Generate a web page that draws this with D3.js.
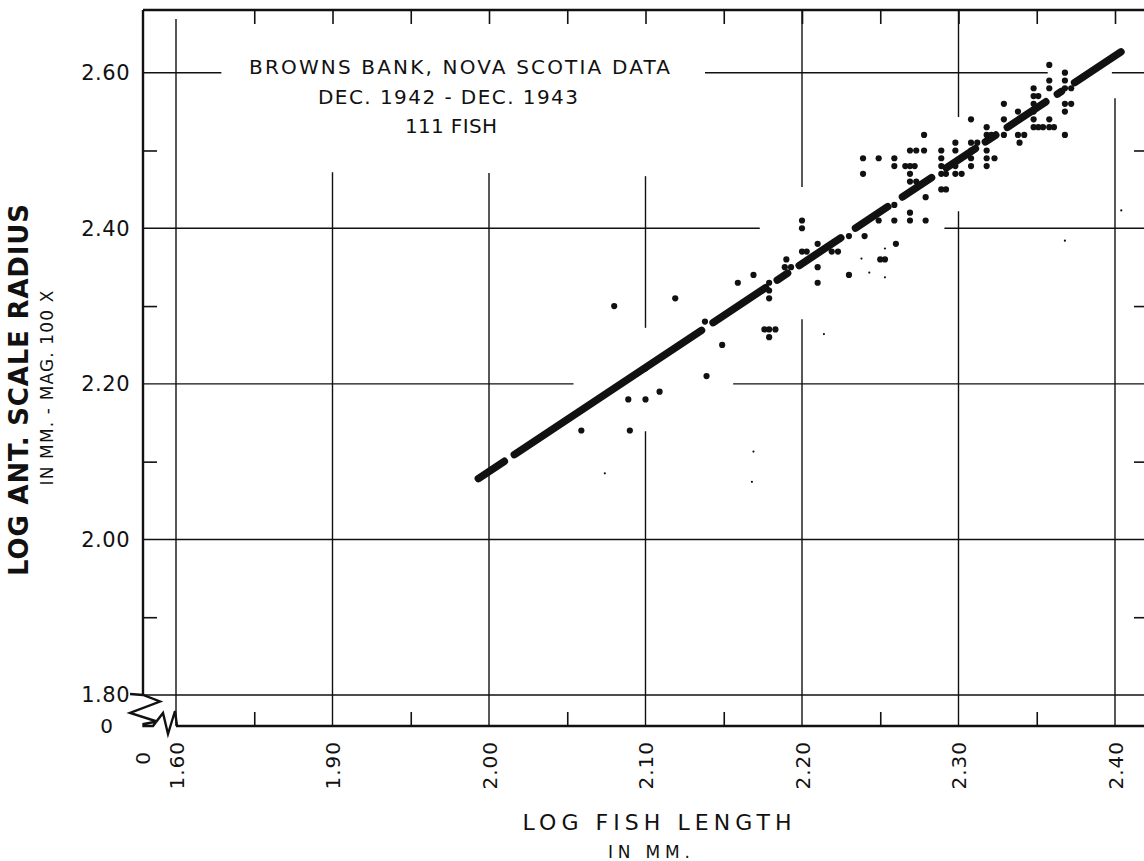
<!DOCTYPE html>
<html>
<head>
<meta charset="utf-8">
<script src="https://cdn.jsdelivr.net/npm/d3@7"></script>
<style>
body { margin: 0; background: #fff; }
svg { display: block; background: #fff; }
text { font-family: "DejaVu Sans", sans-serif; fill: #111; }
</style>
</head>
<body>
<svg id="chart" width="1144" height="861"></svg>
<script>
// ---- data ----
var logLength = [2.059,2.080,2.089,2.090,2.100,2.100,2.109,2.119,2.138,2.139,
	2.149,2.159,2.169,2.179,2.179,2.179,2.176,2.179,2.183,2.179,
	2.190,2.189,2.193,2.200,2.200,2.210,2.200,2.203,2.219,2.223,
	2.210,2.210,2.230,2.240,2.230,2.250,2.253,2.260,2.249,2.259,
	2.259,2.269,2.269,2.279,2.279,2.239,2.239,2.249,2.259,2.259,
	2.266,2.269,2.272,2.269,2.273,2.278,2.269,2.269,2.273,2.278,
	2.289,2.289,2.289,2.289,2.292,2.289,2.292,2.298,2.298,2.298,
	2.298,2.302,2.308,2.308,2.312,2.308,2.308,2.308,2.318,2.318,
	2.321,2.318,2.318,2.323,2.318,2.329,2.329,2.329,2.338,2.338,
	2.342,2.339,2.348,2.348,2.351,2.348,2.348,2.348,2.348,2.351,
	2.354,2.358,2.361,2.358,2.358,2.358,2.358,2.368,2.368,2.368,
	2.372,2.368,2.372,2.368,2.368];
var logRadius = [2.14,2.30,2.18,2.14,2.18,2.22,2.19,2.31,2.28,2.21,
	2.25,2.33,2.34,2.33,2.32,2.31,2.27,2.27,2.27,2.26,
	2.36,2.35,2.35,2.41,2.40,2.38,2.37,2.37,2.37,2.37,
	2.35,2.33,2.39,2.39,2.34,2.36,2.36,2.38,2.41,2.43,
	2.41,2.42,2.41,2.41,2.44,2.49,2.47,2.49,2.49,2.48,
	2.48,2.48,2.48,2.50,2.50,2.50,2.47,2.46,2.46,2.52,
	2.50,2.49,2.48,2.47,2.47,2.45,2.45,2.51,2.50,2.48,
	2.47,2.47,2.54,2.51,2.51,2.50,2.49,2.48,2.53,2.52,
	2.52,2.50,2.49,2.49,2.48,2.56,2.54,2.52,2.55,2.52,
	2.52,2.51,2.58,2.57,2.57,2.56,2.55,2.54,2.53,2.53,
	2.53,2.53,2.53,2.61,2.59,2.58,2.54,2.60,2.59,2.58,
	2.58,2.56,2.56,2.55,2.52];

// faint specks in the plot
var speckX = [2.238,2.243,2.253,2.253,2.214,2.074,2.169,2.168,2.404,2.368];
var speckY = [2.361,2.343,2.374,2.337,2.264,2.085,2.113,2.074,2.423,2.384];

// fitted line  log R = a + b log L, drawn in pieces
var fitA = -0.584, fitB = 1.3357;
var fitPieces = [[1.992,2.011],[2.015,2.137],[2.142,2.178],[2.183,2.192],[2.197,2.226],
	[2.233,2.256],[2.263,2.284],[2.291,2.312],[2.316,2.325],[2.330,2.357],[2.362,2.367],[2.373,2.405]];

// axes
var xMajor = [1.8,1.9,2.0,2.1,2.2,2.3,2.4];
var xMajorLabels = ["1.60","1.90","2.00","2.10","2.20","2.30","2.40"];
var xMinor = [1.85,1.95,2.05,2.15,2.25,2.35];
var xTop = [1.85,1.90,1.95,2.00,2.05,2.10,2.15,2.20,2.25,2.30,2.35,2.40];
var yMajor = [1.8,2.0,2.2,2.4,2.6];
var yMajorLabels = ["1.80","2.00","2.20","2.40","2.60"];
var yMinor = [1.9,2.1,2.3,2.5];

// grid lines with the breaks seen in the drawing (null = frame edge)
var xGridPieces = [
	[[null,2.669]],
	[[null,2.472]],
	[[null,2.471]],
	[[null,2.139],[2.272,2.467]],
	[[null,2.283],[2.453,null]],
	[[null,2.422],[2.543,null]],
	[[null,2.567]]
];
var yGridPieces = [
	[[null,null]],
	[[null,null]],
	[[null,2.054],[2.156,null]],
	[[null,2.173],[2.291,null]],
	[[null,1.829],[2.138,2.357],[2.398,null]]
];

var titleLines = ["BROWNS BANK, NOVA SCOTIA DATA","DEC. 1942 - DEC. 1943","111 FISH"];

// ---- drawing ----
var ink = "#111",
	frame = {left:143, top:10, right:1148, bottom:726};
var svg = d3.select("#chart");
var x = d3.scaleLinear().domain([1.8, 2.4]).range([176, 1115]),
	y = d3.scaleLinear().domain([1.8, 2.6]).range([695, 72.7]);

var grid = svg.append("g").attr("stroke", ink).attr("stroke-width", 1.4).attr("fill", "none");
xMajor.forEach(function(v, i) {
	xGridPieces[i].forEach(function(p) {
		grid.append("line")
			.attr("x1", x(v)).attr("x2", x(v))
			.attr("y1", p[0] == null ? frame.bottom : y(p[0]))
			.attr("y2", p[1] == null ? frame.top : y(p[1]));
	});
});
yMajor.forEach(function(v, i) {
	yGridPieces[i].forEach(function(p) {
		grid.append("line")
			.attr("y1", y(v)).attr("y2", y(v))
			.attr("x1", p[0] == null ? frame.left : x(p[0]))
			.attr("x2", p[1] == null ? frame.right : x(p[1]));
	});
});

function styleAxis(g) {
	g.select(".domain").remove();
	g.attr("font-family", null).attr("font-size", null);
	g.selectAll(".tick line").attr("stroke", ink).attr("stroke-width", 1.6);
}

// minor / edge ticks (pointing inward)
svg.append("g").attr("transform", "translate(0," + frame.bottom + ")")
	.call(d3.axisBottom(x).tickValues(xMinor).tickSize(-14).tickFormat("")).call(styleAxis);
svg.append("g").attr("transform", "translate(0," + frame.top + ")")
	.call(d3.axisTop(x).tickValues(xTop).tickSize(-14).tickFormat("")).call(styleAxis);
svg.append("g").attr("transform", "translate(" + frame.left + ",0)")
	.call(d3.axisLeft(y).tickValues(yMinor).tickSize(-14).tickFormat("")).call(styleAxis);
svg.append("g").attr("transform", "translate(" + frame.right + ",0)")
	.call(d3.axisRight(y).tickValues(yMinor).tickSize(-14).tickFormat("")).call(styleAxis);

// tick labels
var xl = svg.append("g").attr("transform", "translate(0," + frame.bottom + ")")
	.call(d3.axisBottom(x).tickValues(xMajor).tickSize(0)
		.tickFormat(function(d, i) { return xMajorLabels[i]; }))
	.call(styleAxis);
xl.selectAll(".tick text")
	.attr("transform", "rotate(-90)")
	.attr("x", -15).attr("y", 0).attr("dy", "0.36em")
	.attr("text-anchor", "end")
	.style("font-size", "20px").style("letter-spacing", "1px");

var yl = svg.append("g").attr("transform", "translate(" + frame.left + ",0)")
	.call(d3.axisLeft(y).tickValues(yMajor).tickSize(0).tickPadding(13)
		.tickFormat(function(d, i) { return yMajorLabels[i]; }))
	.call(styleAxis);
yl.selectAll(".tick text").style("font-size", "21px").style("letter-spacing", "0.5px");

// origin zeros of the broken axes
svg.append("text").attr("x", 113).attr("y", 733).attr("text-anchor", "end")
	.style("font-size", "20px").text("0");
svg.append("text").attr("transform", "translate(" + (frame.left + 7) + ",752) rotate(-90)")
	.attr("text-anchor", "end").style("font-size", "20px").text("0");

// frame
var frameG = svg.append("g").attr("stroke", ink).attr("fill", "none").attr("stroke-width", 2.4);
frameG.append("path").attr("d", "M" + frame.left + "," + frame.top + "H" + frame.right + "V" + frame.bottom);
frameG.append("path").attr("d", "M" + frame.left + "," + frame.top + "V" + y(1.8));
frameG.append("path").attr("d", "M" + x(1.8) + "," + frame.bottom + "H" + frame.right);
// axis break symbol
frameG.append("path").attr("stroke-linejoin", "miter")
	.attr("d", d3.line()([[130,694],[143,695],[160,701.5],[130,713],[157,721.5],[143.5,724],
		[143.5,726],[153,726],[163,713],[168,734],[175,711],[177,726]]));

// fitted line
var inset = 0.0012;
svg.append("g").attr("stroke", ink).attr("stroke-width", 7.5).attr("stroke-linecap", "round")
	.selectAll("line").data(fitPieces).join("line")
	.attr("x1", function(p) { return x(p[0] + inset); })
	.attr("y1", function(p) { return y(fitA + fitB * (p[0] + inset)); })
	.attr("x2", function(p) { return x(p[1] - inset); })
	.attr("y2", function(p) { return y(fitA + fitB * (p[1] - inset)); });

// observations
svg.append("g").attr("fill", ink)
	.selectAll("circle").data(d3.range(logLength.length)).join("circle")
	.attr("cx", function(i) { return x(logLength[i]); })
	.attr("cy", function(i) { return y(logRadius[i]); })
	.attr("r", 3.1);
svg.append("g").attr("fill", ink)
	.selectAll("circle").data(d3.range(speckX.length)).join("circle")
	.attr("cx", function(i) { return x(speckX[i]); })
	.attr("cy", function(i) { return y(speckY[i]); })
	.attr("r", 1.1);

// title block
var tBox = [{cx:459.5, y:74, len:421}, {cx:448, y:104, len:260}, {cx:451, y:133, len:92}];
svg.append("g").selectAll("text").data(titleLines).join("text")
	.attr("x", function(d, i) { return tBox[i].cx; })
	.attr("y", function(d, i) { return tBox[i].y; })
	.attr("text-anchor", "middle")
	.attr("textLength", function(d, i) { return tBox[i].len; })
	.attr("lengthAdjust", "spacing")
	.style("font-size", "20px")
	.text(function(d) { return d; });

// axis titles
svg.append("text").attr("transform", "translate(28,390) rotate(-90)")
	.attr("text-anchor", "middle").attr("textLength", 372).attr("lengthAdjust", "spacing")
	.style("font-size", "26px").style("font-weight", "bold")
	.text("LOG ANT. SCALE RADIUS");
svg.append("text").attr("transform", "translate(53,388) rotate(-90)")
	.attr("text-anchor", "middle").attr("textLength", 195).attr("lengthAdjust", "spacing")
	.style("font-size", "17px")
	.text("IN MM. - MAG. 100 X");
svg.append("text").attr("x", 657).attr("y", 830)
	.attr("text-anchor", "middle").attr("textLength", 269).attr("lengthAdjust", "spacing")
	.style("font-size", "22px")
	.text("LOG FISH LENGTH");
svg.append("text").attr("x", 649).attr("y", 858)
	.attr("text-anchor", "middle").attr("textLength", 82).attr("lengthAdjust", "spacing")
	.style("font-size", "17px")
	.text("IN MM.");
</script>
</body>
</html>
